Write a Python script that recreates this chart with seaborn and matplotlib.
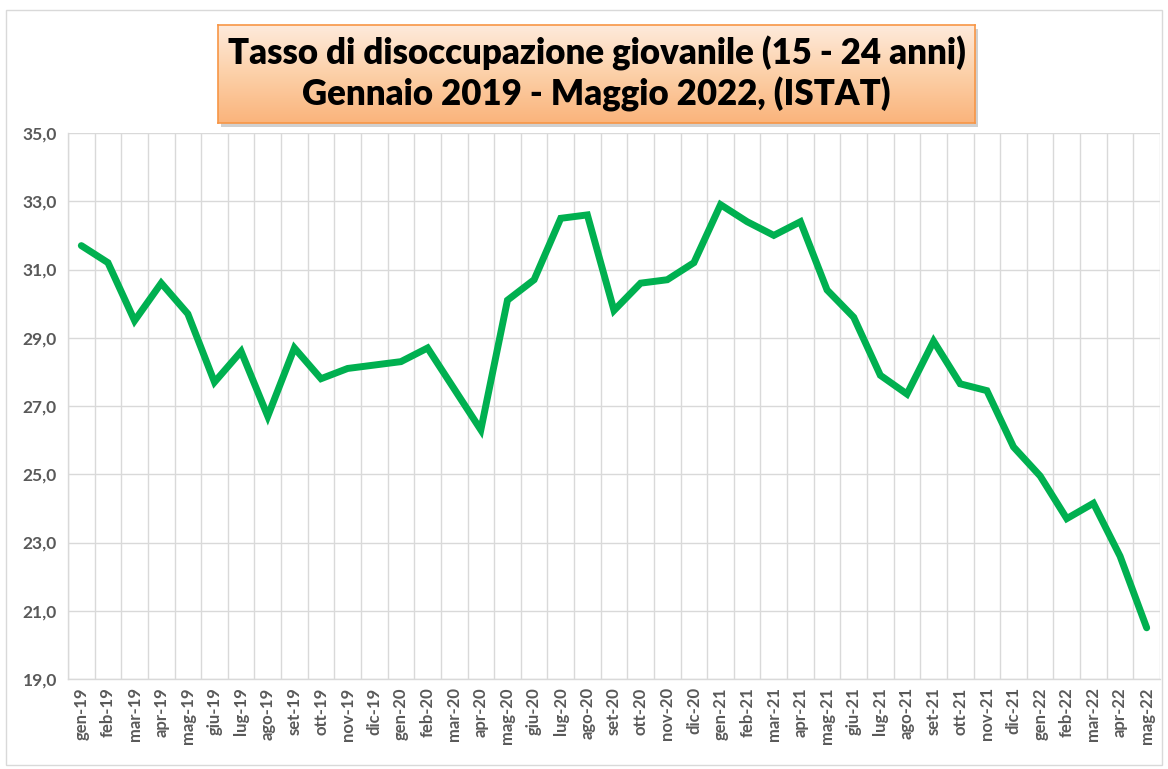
import numpy as np
import pandas as pd
import matplotlib.pyplot as plt
import seaborn as sns
from matplotlib.colors import LinearSegmentedColormap
from matplotlib.patches import Rectangle

# month labels and youth unemployment rate (%)
months = ['gen-19', 'feb-19', 'mar-19', 'apr-19', 'mag-19', 'giu-19', 'lug-19', 'ago-19',
          'set-19', 'ott-19', 'nov-19', 'dic-19', 'gen-20', 'feb-20', 'mar-20', 'apr-20',
          'mag-20', 'giu-20', 'lug-20', 'ago-20', 'set-20', 'ott-20', 'nov-20', 'dic-20',
          'gen-21', 'feb-21', 'mar-21', 'apr-21', 'mag-21', 'giu-21', 'lug-21', 'ago-21',
          'set-21', 'ott-21', 'nov-21', 'dic-21', 'gen-22', 'feb-22', 'mar-22', 'apr-22',
          'mag-22']
rates = [31.7, 31.2, 29.5, 30.6, 29.7, 27.7, 28.6, 26.7,
         28.7, 27.8, 28.1, 28.2, 28.3, 28.7, 27.5, 26.3,
         30.1, 30.7, 32.5, 32.6, 29.8, 30.6, 30.7, 31.2,
         32.9, 32.4, 32.0, 32.4, 30.4, 29.6, 27.9, 27.35,
         28.9, 27.65, 27.45, 25.8, 24.95, 23.7, 24.15, 22.6,
         20.5]
y_ticks = [19, 21, 23, 25, 27, 29, 31, 33, 35]

df = pd.DataFrame({'pos': np.arange(len(months)), 'mese': months, 'tasso': rates})

sns.set_style('white')
plt.rcParams['font.family'] = ['Lato', 'DejaVu Sans']

fig = plt.figure(figsize=(11.68, 7.69), dpi=100)
fig.patch.set_facecolor('white')

# chart area border
fig.add_artist(Rectangle((6 / 1168, 0.005), 1 - 12 / 1168, 1 - 10 / 769 - 0.005,
                         transform=fig.transFigure, fill=False, edgecolor='#D9D9D9', lw=1))

ax = fig.add_axes([68 / 1168, 1 - 679 / 769, (1160 - 68) / 1168, (679 - 133) / 769])
sns.lineplot(data=df, x='pos', y='tasso', ax=ax, color='#00B050', linewidth=5,
             solid_joinstyle='miter', solid_capstyle='round')

ax.set_xlim(-0.5, len(months) - 0.5)
ax.set_ylim(19, 35)
ax.set_yticks(y_ticks)
ax.set_yticklabels([f'{v:.1f}'.replace('.', ',') for v in y_ticks],
                   fontsize=12.5, fontweight='bold', color='#595959')
ax.set_xticks(df['pos'])
ax.set_xticklabels(months, rotation=90, fontsize=12, fontweight='bold', color='#595959')
ax.set_xticks(np.arange(len(months) + 1) - 0.5, minor=True)
ax.grid(False)
ax.grid(axis='y', which='major', color='#D9D9D9', lw=1)
ax.grid(axis='x', which='minor', color='#D9D9D9', lw=1)
ax.set_axisbelow(True)
ax.tick_params(axis='both', which='both', length=0)
ax.tick_params(axis='y', pad=8)
ax.tick_params(axis='x', pad=6)
ax.set_xlabel('')
ax.set_ylabel('')
for side in ['top', 'right']:
    ax.spines[side].set_visible(False)
for side in ['left', 'bottom']:
    ax.spines[side].set_color('#D9D9D9')
    ax.spines[side].set_linewidth(1)

# title box with orange gradient
tx0, ty0, tx1, ty1 = 218 / 1168, 1 - 123 / 769, 975 / 1168, 1 - 25 / 769
shadow = fig.add_axes([tx0 + 3 / 1168, ty0 - 4 / 769, tx1 - tx0, ty1 - ty0])
shadow.set_facecolor('#D0D0D0')
shadow.set_xticks([])
shadow.set_yticks([])
for s in shadow.spines.values():
    s.set_visible(False)
tax = fig.add_axes([tx0, ty0, tx1 - tx0, ty1 - ty0])
cmap = LinearSegmentedColormap.from_list('peach', ['#FEEADB', '#FCD0A8', '#FAB47C'])
tax.imshow(np.linspace(0, 1, 100).reshape(-1, 1), aspect='auto', cmap=cmap,
           extent=[0, 1, 0, 1], origin='upper')
tax.set_xlim(0, 1)
tax.set_ylim(0, 1)
tax.set_xticks([])
tax.set_yticks([])
for s in tax.spines.values():
    s.set_color('#F79646')
    s.set_linewidth(1.2)
tax.text(0.5, 0.5, 'Tasso di disoccupazione giovanile (15 - 24 anni)\nGennaio 2019 - Maggio 2022, (ISTAT)',
         ha='center', va='center', fontsize=25, fontweight='heavy', color='black',
         linespacing=1.2, transform=tax.transAxes)

fig.savefig('out.png', dpi=100, facecolor='white')
